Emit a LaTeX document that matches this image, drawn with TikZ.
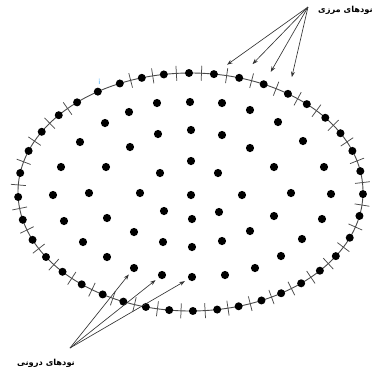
\documentclass[tikz,border=0pt]{standalone}
\usepackage{fontspec}
\newfontfamily\arfont[Script=Arabic]{DejaVu Sans}
\TeXXeTstate=1
\usetikzlibrary{arrows.meta}
\definecolor{rimgray}{HTML}{4A4A4A}
\definecolor{arrgray}{HTML}{333333}
\definecolor{ilblue}{HTML}{3FA9F5}
\begin{document}
\begin{tikzpicture}[x=1pt,y=-1pt,
  rim/.style={draw=rimgray,line width=0.9pt},
  tickmark/.style={draw=rimgray,line width=0.75pt},
  bdot/.style={circle,fill=black,inner sep=0pt,minimum size=8pt},
  idot/.style={circle,fill=black,inner sep=0pt,minimum size=8.2pt},
  arr/.style={draw=arrgray,line width=0.65pt,-{Stealth[length=5.5pt,width=4pt]}},
  lbl/.style={font=\arfont\bfseries\fontsize{8.3}{10}\selectfont,inner sep=0pt}]
\useasboundingbox (0,0) rectangle (376,373);
\def\cx{190.5}\def\cy{192}\def\ea{172.5}\def\eb{119}
% ellipse
\draw[rim] (\cx,\cy) ellipse [x radius=172.5pt, y radius=119pt];
% tick marks
\foreach \t in {-86.35,-77.9,-69.25,-60.25,-51.6,-43.1,-34.1,-24.9,-15.15,-4.55,
  6.3,17.1,27.6,37,45.75,54.2,62,69.75,77.45,85.15,93.15,101.05,108.95,116.75,
  124.85,133.5,142.4,151.6,161.4,172.05,183.4,194.7,205.3,215.3,224.55,
  249.7,257.35,265.3}{
  \pgfmathsetmacro\nx{cos(\t)}
  \pgfmathsetmacro\ny{1.4496*sin(\t)}
  \pgfmathsetmacro\nn{sqrt(\nx*\nx+\ny*\ny)}
  \pgfmathsetmacro\px{\cx+\ea*cos(\t)}
  \pgfmathsetmacro\py{\cy+\eb*sin(\t)}
  \draw[tickmark] ({\px+7.5*\nx/\nn},{\py+7.5*\ny/\nn}) -- ({\px-7.5*\nx/\nn},{\py-7.5*\ny/\nn});
}
% boundary nodes
\foreach \t [count=\i] in {-90.5,-82.2,-73.6,-64.9,-55.6,-47.6,-38.6,-29.6,-20.2,-10.1,
  1,11.6,22.6,32.6,41.4,50.1,58.3,65.7,73.8,81.1,89.2,97.1,105,112.9,120.6,129.1,
  137.9,146.9,156.3,166.5,177.6,189.2,200.2,210.4,220.2,228.9,237.5,245.8,253.6,261.1}{
  \node[bdot] (b\i) at ({\cx+\ea*cos(\t)},{\cy+\eb*sin(\t)}) {};
}
% interior nodes
\foreach \p [count=\i] in {(157,103),(190,102),(222,103),(250,110),(129,112),(278,122),
  (105,123),(191,130),(158,134),(222,135),(80,142),(303,141),(130,147),(250,148),
  (191,161),(61,167),(106,167),(274,167),(324,167),(160,173),(218,173),
  (53,195),(89,193),(140,193),(191,195),(242,195),(291,193),(331,194),
  (164,211),(219,212),(274,216),(107,218),(192,219),(322,219),(64,221),
  (134,232),(250,231),(302,239),(83,242),(163,242),(222,241),(192,247),
  (107,257),(281,256),(134,268),(255,268),(162,275),(225,275),(192,277)}{
  \node[idot] (i\i) at \p {};
}
% small blue label
\node[font=\sffamily\fontsize{8}{8}\selectfont,text=ilblue,inner sep=0pt] (ilabel) at (99.5,82) {i};
% labels
\node[lbl,anchor=east] (toplbl) at (373,10) {\beginR نودهای مرزی\endR};
\node[lbl] (botlbl) at (46,363) {\beginR نودهای درونی\endR};
% arrows
\coordinate (ta) at (308,7);
\foreach \k/\s in {2/12pt,3/15pt,4/10pt,5/13pt}{
  \draw[arr,shorten >=\s] (ta) -- (b\k);
}
\coordinate (ba) at (70,348);
\foreach \k in {45,47,49}{
  \draw[arr,shorten >=4pt] (ba) -- (i\k);
}
\end{tikzpicture}
\end{document}
